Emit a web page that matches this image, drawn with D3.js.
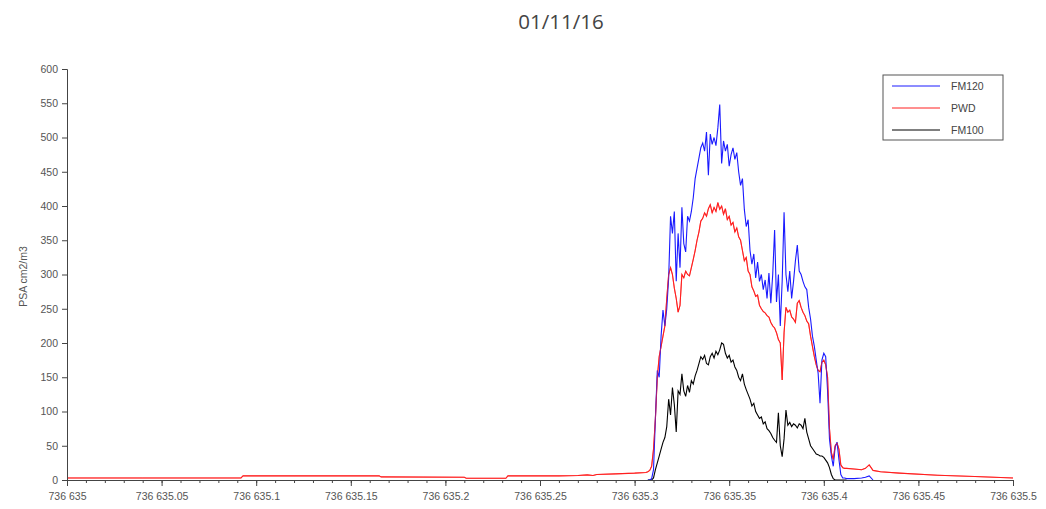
<!DOCTYPE html>
<html>
<head>
<meta charset="utf-8">
<script src="https://cdn.jsdelivr.net/npm/d3@7"></script>
<style>
  body { margin: 0; background: #fff; }
  .tick-label { font-family: "Liberation Sans", Arial, sans-serif; font-size: 10.5px; fill: #555; }
  .legend-text { font-family: "Liberation Sans", Arial, sans-serif; font-size: 10.5px; fill: #444; }
</style>
</head>
<body>
<svg id="chart" width="1046" height="509"></svg>
<script>
// day number base (datenum), times are offsets in days
var baseDay = 736635;

// PWD runs over the whole half day
var pwdTime = [0, 0.04, 0.092, 0.093, 0.12, 0.165, 0.166, 0.21, 0.211, 0.232, 0.233, 0.26, 0.27, 0.275, 0.278, 0.28, 0.29, 0.3, 0.306];
var pwdBase = [3, 3, 3, 6, 6, 6, 4.5, 4, 2.5, 2.5, 6, 6, 6.5, 7.5, 6.5, 8, 9, 10, 11];

// dense sampling through the event (shared by the three series)
var peakTime = [0.307, 0.308, 0.309, 0.310, 0.311, 0.312, 0.313, 0.314, 0.315, 0.316,
  0.317, 0.318, 0.319, 0.320, 0.321, 0.322, 0.323, 0.324, 0.325, 0.326,
  0.327, 0.328, 0.329, 0.330, 0.331, 0.332, 0.333, 0.334, 0.335, 0.336,
  0.337, 0.338, 0.339, 0.340, 0.341, 0.342, 0.343, 0.344, 0.345, 0.346,
  0.347, 0.348, 0.349, 0.350, 0.351, 0.352, 0.353, 0.354, 0.355, 0.356,
  0.357, 0.358, 0.359, 0.360, 0.361, 0.362, 0.363, 0.364, 0.365, 0.366,
  0.367, 0.368, 0.369, 0.370, 0.371, 0.372, 0.373, 0.374, 0.375, 0.376,
  0.377, 0.378, 0.379, 0.380, 0.381, 0.382, 0.383, 0.384, 0.385, 0.386,
  0.387, 0.388, 0.389, 0.390, 0.391, 0.392, 0.393, 0.394, 0.395, 0.396,
  0.397, 0.398, 0.399, 0.400, 0.401, 0.402, 0.403, 0.404, 0.405, 0.406,
  0.407, 0.408, 0.409, 0.410, 0.411, 0.412];
var fm120Peak = [0, 0, 2, 15, 90, 160, 150, 210, 248, 225,
  250, 295, 385, 360, 392, 290, 360, 310, 398, 345,
  333, 385, 378, 392, 412, 440, 455, 470, 485, 492,
  480, 508, 445, 505, 490, 500, 488, 514, 548, 462,
  495, 480, 490, 458, 475, 485, 468, 478, 450, 430,
  440, 395, 370, 380, 335, 315, 330, 295, 318, 290,
  300, 278, 292, 265, 302, 258, 300, 365, 260, 300,
  225, 290, 391, 300, 275, 305, 265, 290, 320, 343,
  305, 300, 290, 282, 278, 252, 235, 210, 195, 175,
  156, 112, 175, 185, 180, 130, 60, 35, 20, 48,
  55, 30, 8, 3, 3, 2];
var pwdPeak = [12, 14, 20, 45, 90, 150, 180, 195, 210, 225,
  265, 300, 310, 300, 280, 265, 245, 255, 300, 295,
  305, 300, 298, 310, 322, 335, 350, 362, 378, 382,
  390, 385, 396, 402, 390, 398, 392, 405, 395, 400,
  388, 396, 380, 385, 372, 376, 362, 368, 355, 350,
  335, 320, 325, 305, 300, 282, 276, 268, 270, 255,
  250, 246, 244, 240, 238, 230, 225, 222, 215, 205,
  200, 146, 215, 252, 245, 248, 238, 235, 230, 258,
  262, 252, 245, 240, 232, 228, 210, 195, 180, 168,
  160, 158, 172, 175, 168, 150, 75, 40, 30, 50,
  54, 45, 22, 18, 17, 17];
var fm100Peak = [0, 0, 0, 3, 15, 25, 35, 45, 55, 62,
  78, 118, 95, 135, 110, 70, 130, 125, 155, 130,
  122, 138, 128, 145, 140, 152, 160, 170, 180, 176,
  182, 170, 168, 180, 185, 178, 188, 183, 190, 200,
  198, 185, 178, 182, 172, 175, 165, 160, 150, 145,
  155, 140, 132, 125, 118, 108, 112, 100, 95, 90,
  92, 82, 85, 75, 72, 68, 62, 58, 55, 98,
  50, 34, 60, 102, 80, 84, 78, 82, 80, 76,
  82, 80, 75, 90, 70, 60, 50, 46, 42, 38,
  37, 35, 35, 33, 29, 25, 18, 8, 2, 0,
  0, 0, 0, 0, 0, 0];

// after the event
var tailTime = [0.416, 0.42, 0.422, 0.424, 0.426, 0.43, 0.44, 0.46, 0.48, 0.5];
var pwdTail = [16, 15, 17, 22, 14, 12, 10, 7, 5, 3];
var fm120Tail = [2, 3, 4, 6, 0];

var seriesNames = ["FM120", "PWD", "FM100"];
var seriesColors = ["#1a1aff", "#ff2020", "#000000"];

var yTicks = [0, 50, 100, 150, 200, 250, 300, 350, 400, 450, 500, 550, 600];
var xTicks = d3.range(0, 11).map(function(i) { return baseDay + i * 0.05; });
var xMinor = d3.range(0, 51).map(function(i) { return baseDay + i * 0.01; });

function toPoints(times, values) {
  return values.map(function(v, i) { return {t: baseDay + times[i], v: v}; });
}

var pwdData = toPoints(pwdTime, pwdBase)
  .concat(toPoints(peakTime, pwdPeak))
  .concat(toPoints(tailTime, pwdTail));
var fm120Data = toPoints(peakTime, fm120Peak).concat(toPoints(tailTime, fm120Tail));
var fm100Data = toPoints(peakTime, fm100Peak);

var svg = d3.select("#chart");
var margin = {top: 69, right: 33, bottom: 29, left: 67};
var width = 1046 - margin.left - margin.right,
    height = 509 - margin.top - margin.bottom;

var x = d3.scaleLinear().domain([baseDay, baseDay + 0.5]).range([0, width]);
var y = d3.scaleLinear().domain([0, 600]).range([height, 0]);

var g = svg.append("g").attr("transform", "translate(" + margin.left + "," + margin.top + ")");

// title
svg.append("text")
   .attr("x", 561).attr("y", 29)
   .attr("text-anchor", "middle")
   .style("font-family", "'Open Sans', sans-serif")
   .style("font-size", "20.5px")
   .style("fill", "#444")
   .text("01/11/16");

// lines (blue on top of black, red partly over blue)
var line = d3.line().x(function(d) { return x(d.t); }).y(function(d) { return y(d.v); });
var drawOrder = [[pwdData, 1], [fm100Data, 2], [fm120Data, 0]];
drawOrder.forEach(function(s) {
  g.append("path")
   .datum(s[0])
   .attr("fill", "none")
   .attr("stroke", seriesColors[s[1]])
   .attr("stroke-width", 1.1)
   .attr("d", line);
});
g.append("path").datum(pwdData).attr("fill", "none")
 .attr("stroke", seriesColors[1]).attr("stroke-width", 1).attr("stroke-opacity", 0.6).attr("d", line);

// axes
var locale = d3.formatLocale({decimal: ".", thousands: " ", grouping: [3], currency: ["", ""]});
var xFmt = locale.format(",.2~f");

var xAxis = g.append("g").attr("transform", "translate(0," + height + ")")
  .call(d3.axisBottom(x).tickValues(xTicks).tickSize(6).tickPadding(7).tickFormat(xFmt));
g.append("g").attr("transform", "translate(0," + height + ")")
  .call(d3.axisBottom(x).tickValues(xMinor).tickSize(3).tickFormat(""))
  .call(function(a) { a.select(".domain").remove(); a.selectAll("line").attr("stroke", "#444"); });

var yAxis = g.append("g")
  .call(d3.axisLeft(y).tickValues(yTicks).tickSize(5).tickPadding(4));

[xAxis, yAxis].forEach(function(a) {
  a.select(".domain").attr("stroke", "#444");
  a.selectAll(".tick line").attr("stroke", "#444");
  a.selectAll(".tick text").attr("class", "tick-label").attr("fill", null);
});

// y label
svg.append("text")
   .attr("transform", "translate(27," + (margin.top + height / 2 + 2) + ") rotate(-90)")
   .attr("text-anchor", "middle")
   .attr("class", "tick-label")
   .text("PSA cm2/m3");

// legend
var legend = svg.append("g").attr("transform", "translate(883,75)");
legend.append("rect").attr("width", 120).attr("height", 65)
      .attr("fill", "#fff").attr("stroke", "#555").attr("stroke-width", 1);
seriesNames.forEach(function(name, i) {
  var ly = 11 + i * 22;
  legend.append("line").attr("x1", 9).attr("x2", 57).attr("y1", ly).attr("y2", ly)
        .attr("stroke", seriesColors[i]).attr("stroke-width", 1);
  legend.append("text").attr("x", 68).attr("y", ly + 4).attr("class", "legend-text").text(name);
});
</script>
</body>
</html>
